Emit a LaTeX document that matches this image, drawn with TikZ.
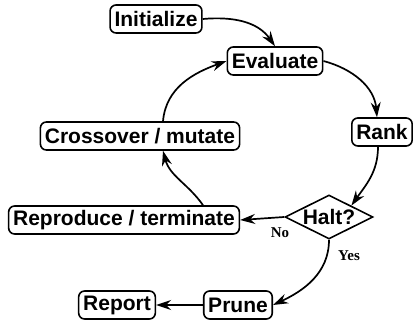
\documentclass[tikz,border=0pt]{standalone}
\usepackage{fontspec}
\setmainfont{Liberation Sans}
\newfontfamily\lblfont{Liberation Serif}
\usetikzlibrary{shapes.geometric,arrows.meta}
\begin{document}
\begin{tikzpicture}[x=1pt,y=-1pt,
  box/.style={draw, line width=1.6pt, rounded corners=6pt,
    font=\fontsize{21}{22}\selectfont\bfseries, inner xsep=4.5pt, inner ysep=0pt, minimum height=28pt},
  dia/.style={draw, diamond, aspect=2, line width=1.6pt, minimum width=88pt, minimum height=44pt, inner sep=0pt,
    font=\fontsize{21}{22}\selectfont\bfseries},
  lbl/.style={font=\lblfont\bfseries\fontsize{15}{16}\selectfont, inner sep=0pt},
  arr/.style={line width=1.7pt, -{Stealth[length=15pt,width=10pt,inset=5pt]}}]
\useasboundingbox (0,0) rectangle (415,326);
\node[box] (init) at (156,19) {Initialize};
\node[box] (eval) at (275,61) {Evaluate};
\node[box] (rank) at (382,132) {Rank};
\node[box] (cross) at (140,136) {Crossover / mutate};
\node[box] (repro) at (124,220) {Reproduce / terminate};
\node[dia] (halt) at (329,217) {Halt?};
\node[box] (report) at (117,305) {Report};
\node[box] (prune) at (238,305) {Prune};
\node[lbl] (no) at (280,233) {No};
\node[lbl] (yes) at (349,256) {Yes};
\draw[arr] (init.east) to[out=5,in=125] (eval.north);
\draw[arr] (eval.east) to[out=-15,in=95] ([xshift=-5pt]rank.north);
\draw[arr] ([xshift=-4pt]rank.south) to[out=-90,in=55] (halt.north east);
\draw[arr] (halt.west) -- (repro.east);
\draw[arr] ([xshift=79pt]repro.north) to[out=125,in=-75] ([xshift=23pt]cross.south);
\draw[arr] ([xshift=23pt]cross.north) to[out=85,in=200] (eval.west);
\draw[arr] (halt.south) to[out=-90,in=25] (prune.east);
\draw[arr] (prune.west) -- (report.east);
\end{tikzpicture}
\end{document}
